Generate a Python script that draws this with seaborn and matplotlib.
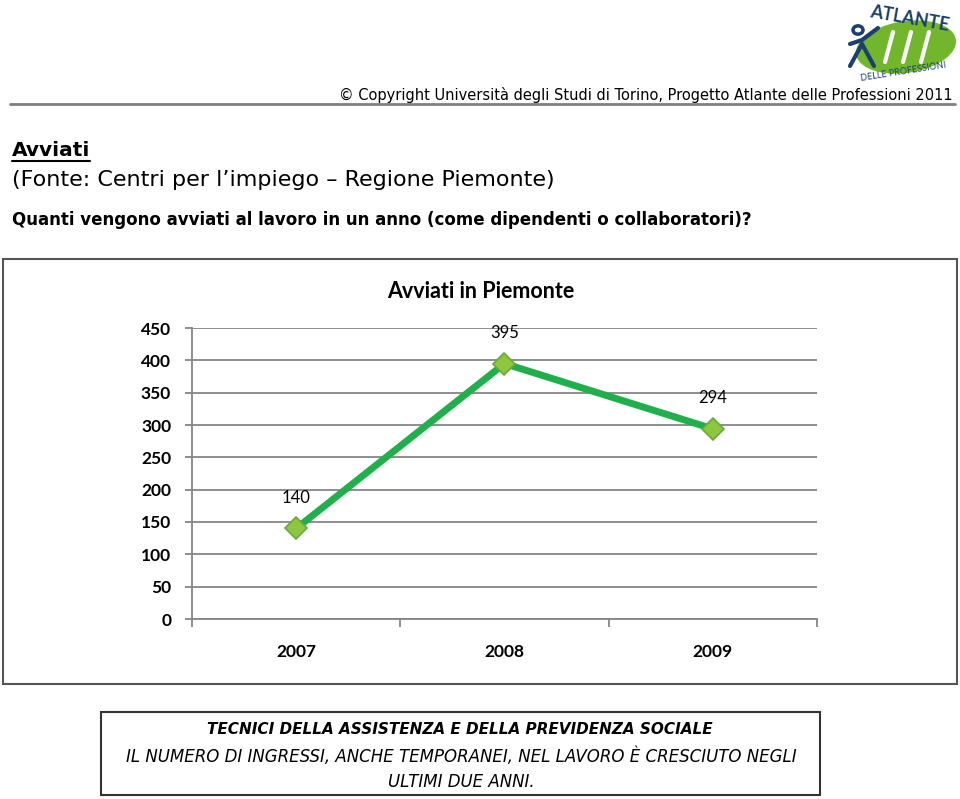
import matplotlib
matplotlib.use("Agg")
import matplotlib.pyplot as plt
from matplotlib.lines import Line2D
from matplotlib.patches import Rectangle, Ellipse, Circle
import seaborn as sns
import pandas as pd

# data
years = ["2007", "2008", "2009"]
avviati = [140, 395, 294]
y_ticks = [0, 50, 100, 150, 200, 250, 300, 350, 400, 450]

W, H = 960, 799


def fx(px):
    return px / W


def fy(py):
    return 1 - py / H


sns.set_style("white")
plt.rcParams['font.family'] = ['DejaVu Sans']
plt.rcParams['text.color'] = 'black'
plt.rcParams['xtick.color'] = 'black'
plt.rcParams['ytick.color'] = 'black'

fig = plt.figure(figsize=(W / 100, H / 100), dpi=100)

head_font = ['DejaVu Sans']
chart_font = ['Lato', 'DejaVu Sans']
navy = "#1c3f6e"

# logo (simplified)
fig.add_artist(Ellipse((fx(906), fy(47)), 100 / W, 50 / H, angle=12,
                       transform=fig.transFigure, color="#72b62d", zorder=1))
for dx in (-16, 2, 20):
    fig.add_artist(Line2D([fx(905 + dx - 4), fx(905 + dx + 4)], [fy(62), fy(32)],
                          color="white", lw=3, transform=fig.transFigure, zorder=2))
fig.add_artist(Circle((fx(858), fy(30)), 5 / W, transform=fig.transFigure,
                      fill=False, edgecolor=navy, lw=2.5, zorder=3))
fig.add_artist(Line2D([fx(850), fx(862), fx(878)], [fy(44), fy(40), fy(28)],
                      color=navy, lw=3, transform=fig.transFigure, zorder=3))
fig.add_artist(Line2D([fx(850), fx(862), fx(874)], [fy(66), fy(44), fy(66)],
                      color=navy, lw=3, transform=fig.transFigure, zorder=3))
fig.text(fx(910), fy(19), "ATLANTE", color=navy, fontsize=13, fontweight="bold",
         ha="center", va="center", rotation=-10, family=chart_font, zorder=4)
fig.text(fx(903), fy(72), "DELLE PROFESSIONI", color=navy, fontsize=6.5,
         ha="center", va="center", rotation=9, family=chart_font, zorder=4)

# header
fig.text(fx(953), fy(95), "\u00a9 Copyright Universit\u00e0 degli Studi di Torino, Progetto Atlante delle Professioni 2011",
         ha="right", va="center", fontsize=10.5, family=head_font)
fig.add_artist(Line2D([fx(10), fx(955)], [fy(104), fy(104)], color="#808080", lw=2,
                      transform=fig.transFigure))

fig.text(fx(12), fy(150), "Avviati", ha="left", va="center", fontsize=14.5,
         fontweight="bold", family=head_font)
fig.add_artist(Line2D([fx(12), fx(90)], [fy(161), fy(161)], color="black", lw=1.5,
                      transform=fig.transFigure))
fig.text(fx(12), fy(180), "(Fonte: Centri per l\u2019impiego \u2013 Regione Piemonte)",
         ha="left", va="center", fontsize=16, family=head_font)
fig.text(fx(12), fy(220), "Quanti vengono avviati al lavoro in un anno (come dipendenti o collaboratori)?",
         ha="left", va="center", fontsize=12, fontweight="bold", family=head_font)

# chart frame
fig.add_artist(Rectangle((fx(3), fy(684)), 954 / W, 425 / H, transform=fig.transFigure,
                         fill=False, edgecolor="#555555", lw=1.5))
fig.text(fx(481), fy(291), "Avviati in Piemonte", ha="center", va="center",
         fontsize=15.5, fontweight="bold", family=chart_font)

ax = fig.add_axes([fx(192), fy(619), 625 / W, 291 / H])
df = pd.DataFrame({"anno": years, "avviati": avviati})
sns.pointplot(data=df, x="anno", y="avviati", ax=ax, errorbar=None, color="#1fb04b",
              markers="D", linestyles="-", zorder=3)
line = ax.lines[0]
line.set_linewidth(5)
line.set_markersize(11)
line.set_markerfacecolor("#8dc63f")
line.set_markeredgecolor("#6aa83a")
line.set_markeredgewidth(1.2)

for i, v in enumerate(avviati):
    ax.annotate(str(v), (i, v), xytext=(0, 22), textcoords="offset points",
                ha="center", va="center", fontsize=12, family=chart_font, color="black")

ax.set_xlim(-0.5, len(years) - 0.5)
ax.set_ylim(0, 450)
ax.set_yticks(y_ticks)
ax.set_xticks(range(len(years)))
ax.set_xticklabels(years)
ax.set_xticks([i - 0.5 for i in range(len(years) + 1)], minor=True)
ax.set_xlabel("")
ax.set_ylabel("")
ax.grid(axis="y", color="#868686", lw=1.3)
ax.set_axisbelow(True)
for s in ("top", "right"):
    ax.spines[s].set_visible(False)
for s in ("left", "bottom"):
    ax.spines[s].set_color("#868686")
    ax.spines[s].set_linewidth(1.3)
ax.tick_params(axis="y", length=5, width=1.3, color="#868686", pad=10, left=True,
               labelcolor="black")
ax.tick_params(axis="x", which="major", length=0, pad=18, labelcolor="black")
ax.tick_params(axis="x", which="minor", length=6, width=1.3, color="#868686", bottom=True)
for lab in ax.get_xticklabels() + ax.get_yticklabels():
    lab.set_family(chart_font)
    lab.set_fontsize(12.5)
    lab.set_fontweight("bold")

# bottom box
fig.add_artist(Rectangle((fx(101), fy(795)), 719 / W, 83 / H, transform=fig.transFigure,
                         fill=False, edgecolor="#333333", lw=1.5))
fig.text(fx(460), fy(729), "TECNICI DELLA ASSISTENZA E DELLA PREVIDENZA SOCIALE",
         ha="center", va="center", fontsize=11, fontweight="bold", style="italic", family=head_font)
fig.text(fx(461), fy(757), "IL NUMERO DI INGRESSI, ANCHE TEMPORANEI, NEL LAVORO \u00c8 CRESCIUTO NEGLI",
         ha="center", va="center", fontsize=12, style="italic", family=head_font)
fig.text(fx(461), fy(782), "ULTIMI DUE ANNI.",
         ha="center", va="center", fontsize=12, style="italic", family=head_font)

fig.savefig("out.png", dpi=100)
